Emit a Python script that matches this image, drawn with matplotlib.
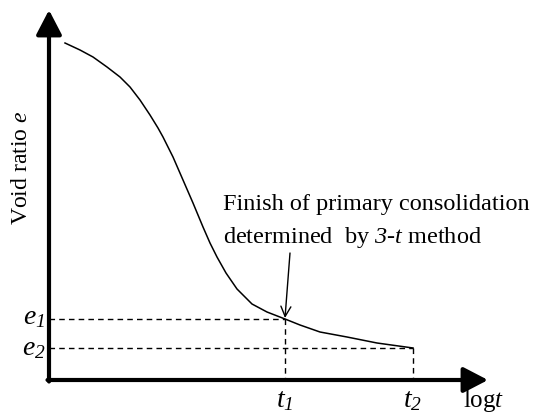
import matplotlib
matplotlib.use("Agg")
import matplotlib.pyplot as plt

# schematic e - log t curve, coordinates (pixels)
curve_x = [65, 80, 93, 107, 120, 130, 140, 150, 158, 163, 173, 183, 193, 203,
           210, 217, 226, 237, 252, 267, 285, 300, 320, 347, 377, 413]
curve_y = [43, 50, 57, 67, 77, 87, 100, 115, 128, 137, 157, 180, 203, 227,
           243, 257, 273, 289, 304, 312, 319, 325, 332, 337, 343, 348]
t1, e1 = 285, 319
t2, e2 = 413, 348
origin = (49, 380)
x_tip, y_tip = 488, 10

plt.rcParams['font.family'] = ['Liberation Serif', 'DejaVu Serif']
plt.rcParams['mathtext.fontset'] = 'custom'
plt.rcParams['mathtext.rm'] = 'Liberation Serif'
plt.rcParams['mathtext.it'] = 'Liberation Serif:italic'
plt.rcParams['mathtext.cal'] = 'Liberation Serif:italic'  # used for italic digits

note_lines = ["Finish of primary consolidation",
              r"determined  by $\mathcal{3}$-$t$ method"]

fig = plt.figure(figsize=(5.52, 4.16), dpi=100)
ax = fig.add_axes([0, 0, 1, 1])
ax.set_xlim(0, 552)
ax.set_ylim(416, 0)
ax.axis('off')

# axes with arrows
head = dict(arrowstyle='-|>,head_length=0.5,head_width=0.26', lw=3, color='k',
            mutation_scale=30, shrinkA=0, shrinkB=0)
ax.annotate('', xy=(origin[0], y_tip), xytext=(origin[0], origin[1] + 1.5), arrowprops=head)
ax.annotate('', xy=(x_tip, origin[1]), xytext=(origin[0] - 1.5, origin[1]), arrowprops=head)

ax.plot(curve_x, curve_y, color='k', lw=1.1, solid_joinstyle='round')

dash = dict(color='k', lw=1, dashes=(4, 3))
ax.plot([origin[0], t1], [e1, e1], **dash)
ax.plot([origin[0], t2], [e2, e2], **dash)
ax.plot([t1, t1], [e1, origin[1]], **dash)
ax.plot([t2, t2], [e2, origin[1]], **dash)

ax.annotate('', xy=(t1, e1 - 1), xytext=(290, 253),
            arrowprops=dict(arrowstyle='->', lw=1, color='k', mutation_scale=18,
                            shrinkA=0, shrinkB=0))

ax.text(223, 210, note_lines[0], fontsize=17.5, va='baseline', ha='left')
ax.text(223, 243, note_lines[1], fontsize=17.5, va='baseline', ha='left')

ax.text(22, 168, r'Void ratio $e$', fontsize=17, rotation=90, ha='center', va='center')
ax.text(34, e1 + 5, r'$e_{\mathcal{1}}$', fontsize=20, ha='center', va='baseline')
ax.text(34, e2 + 7, r'$e_{\mathcal{2}}$', fontsize=20, ha='center', va='baseline')
ax.text(t1, 407, r'$t_{\mathcal{1}}$', fontsize=20, ha='center', va='baseline')
ax.text(t2, 407, r'$t_{\mathcal{2}}$', fontsize=20, ha='center', va='baseline')
ax.text(484, 407, r'$\mathrm{log}t$', fontsize=18, ha='center', va='baseline')

fig.savefig('out.png', dpi=100)
